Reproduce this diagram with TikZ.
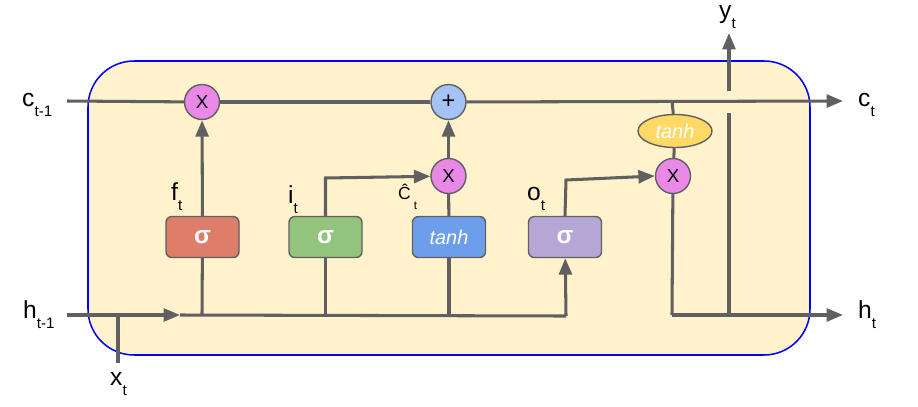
\documentclass[tikz,border=0pt]{standalone}
\usepackage{fontspec}
\setmainfont{Liberation Sans}
\usetikzlibrary{arrows.meta,shapes.geometric}
\definecolor{cellbg}{HTML}{FFF2CC}
\definecolor{cellborder}{HTML}{0000FF}
\definecolor{wire}{HTML}{606060}
\definecolor{opviolet}{HTML}{EA88E8}
\definecolor{opblue}{HTML}{A4C2F4}
\definecolor{gatered}{HTML}{DD7E6B}
\definecolor{gategreen}{HTML}{93C47D}
\definecolor{gateblue}{HTML}{6D9EEB}
\definecolor{gatepurple}{HTML}{B4A7D6}
\definecolor{tanhyellow}{HTML}{FFD966}
\newcommand\mysub[2][13]{\raisebox{-9pt}{\fontsize{#1}{#1}\selectfont #2}}
\tikzset{
  wirestyle/.style={draw=wire, line width=2.6pt},
  arr/.style={wirestyle, -{Triangle[length=14pt,width=11pt]}},
  opnode/.style={circle, draw=wire, line width=1.2pt, minimum size=35*0.03cm, inner sep=0pt, font=\fontsize{16}{16}\selectfont},
  gatebox/.style={rectangle, rounded corners=5pt, draw=wire, line width=1.2pt, minimum width=73*0.03cm, minimum height=41*0.03cm, inner sep=0pt, text=white},
  sigmatext/.style={font=\fontsize{21}{21}\selectfont\bfseries},
  tanhtext/.style={font=\fontsize{17}{17}\selectfont\itshape},
  lbl/.style={anchor=base west, inner sep=0pt, font=\fontsize{21}{21}\selectfont},
}
\begin{document}
\begin{tikzpicture}[x=0.03cm, y=-0.03cm]
\useasboundingbox (0,0) rectangle (918,406);
% cell background
\draw[fill=cellbg, draw=cellborder, line width=1.3pt, rounded corners=46*0.03cm] (88,61) rectangle (810,355);

% operation nodes
\node[opnode, fill=opviolet] (fx) at (202,102) {X};
\node[opnode, fill=opblue, font=\fontsize{20}{20}\selectfont] (plus) at (448.5,102) {+};
\node[opnode, fill=opviolet] (ix) at (448.5,176) {X};
\node[opnode, fill=opviolet] (ox) at (673,176) {X};
\node[ellipse, draw=wire, line width=1.2pt, fill=tanhyellow, minimum width=74*0.03cm, minimum height=33*0.03cm, inner sep=0pt, text=white, tanhtext] (ctanh) at (675,131) {tanh};

% gates
\node[gatebox, fill=gatered, sigmatext] (fg) at (202.5,237) {σ};
\node[gatebox, fill=gategreen, sigmatext] (ig) at (325.5,237) {σ};
\node[gatebox, fill=gateblue, tanhtext] (cg) at (449,237) {tanh};
\node[gatebox, fill=gatepurple, sigmatext] (og) at (565,237) {σ};

% coordinates
\coordinate (cin) at (67,101);
\coordinate (cout) at (843,101);
\coordinate (ctap) at (672,101);
\coordinate (hin) at (67,315);
\coordinate (hmid) at (180,315);
\coordinate (fj) at (202,315);
\coordinate (ij) at (325.5,315);
\coordinate (cj) at (449,315);
\coordinate (oj) at (566,316);
\coordinate (xbot) at (118,363);
\coordinate (xtop) at (118,316);
\coordinate (icorner) at (325.5,178);
\coordinate (ocorner) at (566,180);
\coordinate (hcorner) at (672,315);
\coordinate (hout) at (843,315);
\coordinate (yj) at (729,315);
\coordinate (ylow) at (729,113);
\coordinate (yhigh) at (729,91);
\coordinate (ytip) at (729,33);

% cell state line
\draw[wirestyle] (cin) -- (fx);
\draw[wirestyle] (fx) -- (plus);
\draw[arr] (plus) -- (cout);
\draw[wirestyle] (ctap) -- (ctanh);
\draw[wirestyle] (ctanh) -- (ox);

% hidden input line
\draw[arr] (hin) -- (hmid);
\draw[wirestyle] (hmid) -- (oj);
\draw[wirestyle] (xbot) -- (xtop);

% forget gate
\draw[wirestyle] (fj) -- (fg);
\draw[arr] (fg) -- (fx);
% input gate
\draw[wirestyle] (ij) -- (ig);
\draw[arr] (ig.north) -- (icorner) -- (ix);
% candidate
\draw[wirestyle] (cj) -- (cg);
\draw[wirestyle] (cg) -- (ix);
\draw[arr] (ix) -- (plus);
% output gate
\draw[arr] (oj) -- (og);
\draw[arr] (og.north) -- (ocorner) -- (ox.west);
% output
\draw[wirestyle] (ox) -- (hcorner);
\draw[arr] (hcorner) -- (hout);
\draw[wirestyle] (yj) -- (ylow);
\draw[arr] (yhigh) -- (ytip);

% labels
\node[lbl] (lcprev) at (22,106) {c\mysub{t-1}};
\node[lbl] (lhprev) at (23,318) {h\mysub{t-1}};
\node[lbl] (lx) at (110,385) {x\mysub{t}};
\node[lbl] (lc) at (858,106) {c\mysub{t}};
\node[lbl] (lh) at (858,318) {h\mysub{t}};
\node[lbl] (ly) at (719,18) {y\mysub{t}};
\node[lbl] (lf) at (171,200) {f\mysub{t}};
\node[lbl] (li) at (288,203) {i\mysub{t}};
\node[lbl] (lo) at (527,200) {o\mysub{t}};
\node[lbl, font=\fontsize{15}{15}\selectfont] (lC) at (398,199) {Ĉ\,\raisebox{-9pt}{\fontsize{10}{10}\selectfont t}};
\end{tikzpicture}
\end{document}
